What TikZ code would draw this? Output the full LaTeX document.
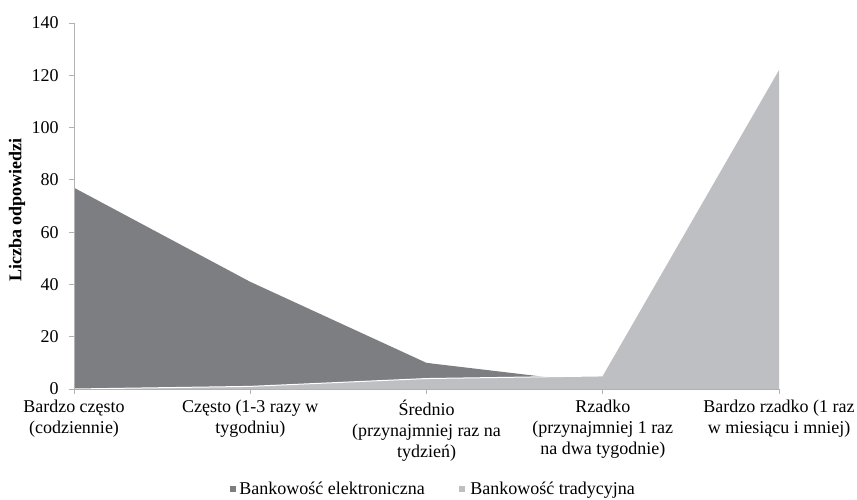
\documentclass[tikz,border=0pt]{standalone}
\usepackage{fontspec}
\setmainfont{Liberation Serif}
\definecolor{elekgray}{RGB}{125,126,130}
\definecolor{tradgray}{RGB}{190,191,195}
\definecolor{axisgray}{RGB}{178,178,178}
\begin{document}
\begin{tikzpicture}[x=88.125pt,y=1.307pt,font=\fontsize{9}{10.5}\selectfont,
  catlabel/.style={anchor=north,align=center,inner sep=0pt,
    execute at begin node={\rule{0pt}{8.5pt}}}]
\useasboundingbox (-37pt,-55pt) rectangle (391.5pt,194.5pt);
% areas
\fill[elekgray] (0,0) -- (0,77) -- (1,41) -- (2,10) -- (3,2) -- (4,0) -- cycle;
\fill[tradgray] (0,0) -- (1,1) -- (2,4) -- (3,5) -- (4,122) -- (4,0) -- cycle;
\draw[white,line width=0.5pt] (0,0) -- (1,1) -- (2,4) -- (3,5);
% axes
\coordinate (o) at (0,0);
\coordinate (ytop) at (0,140);
\coordinate (xend) at (4,0);
\draw[axisgray,line width=0.5pt] (ytop) -- (o) -- (xend);
\foreach \v in {0,20,...,140}{
  \draw[axisgray,line width=0.5pt] (0,\v) -- ++(-2.5pt,0);
  \node[anchor=east,inner sep=0pt] (y\v) at ([xshift=-7.5pt]0,\v) {\v};
}
\foreach \i in {0,...,4}
  \draw[axisgray,line width=0.5pt] (\i,0) -- ++(0,-2.5pt);
% categories
\node[catlabel] (c0) at ([yshift=-5.5pt]0,0) {Bardzo często\\(codziennie)};
\node[catlabel] (c1) at ([yshift=-5.5pt]1,0) {Często (1-3 razy w\\tygodniu)};
\node[catlabel] (c2) at ([yshift=-5.5pt]2,0) {Średnio\\(przynajmniej raz na\\tydzień)};
\node[catlabel] (c3) at ([yshift=-5.5pt]3,0) {Rzadko\\(przynajmniej 1 raz\\na dwa tygodnie)};
\node[catlabel] (c4) at ([yshift=-5.5pt]4,0) {Bardzo rzadko (1 raz\\w miesiącu i mniej)};
% axis title
\node[rotate=90,font=\fontsize{9}{10.5}\selectfont\bfseries] (ytitle) at (-28.5pt,89.5pt) {Liczba odpowiedzi};
% legend
\fill[elekgray] (78pt,-51.25pt) rectangle (81pt,-48.25pt);
\node[anchor=base west,inner sep=0pt] (leg1) at (82.5pt,-52.9pt) {Bankowość elektroniczna};
\fill[tradgray] (192.5pt,-51.25pt) rectangle (195.5pt,-48.25pt);
\node[anchor=base west,inner sep=0pt] (leg2) at (198pt,-52.9pt) {Bankowość tradycyjna};
\end{tikzpicture}
\end{document}
